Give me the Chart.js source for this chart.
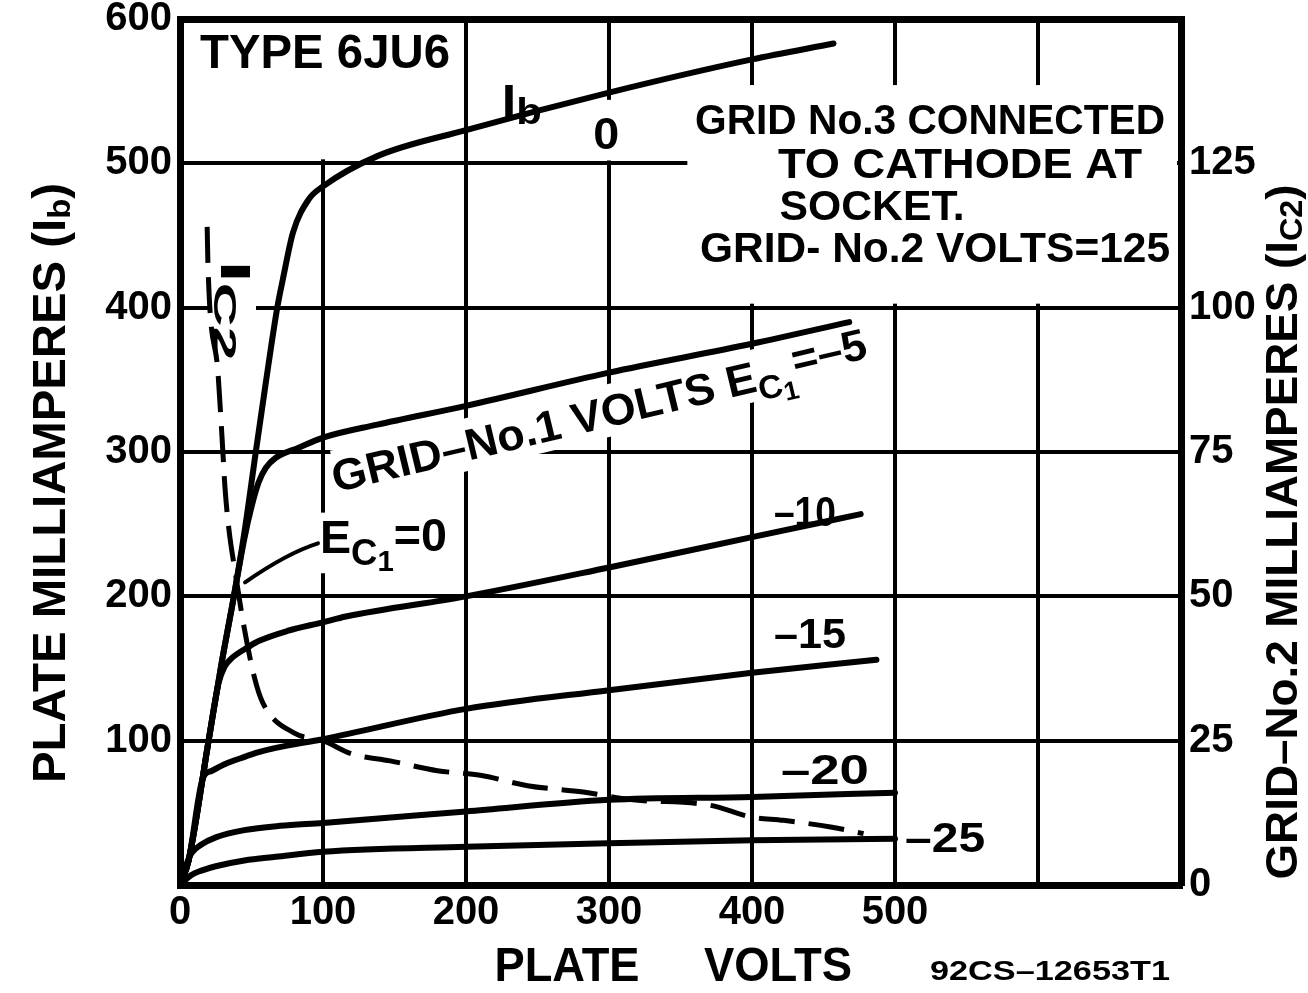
<!DOCTYPE html>
<html>
<head>
<meta charset="utf-8">
<title>Type 6JU6 plate characteristics</title>
<script src="https://cdn.jsdelivr.net/npm/chart.js@4.4.0/dist/chart.umd.min.js"></script>
<style>
  html, body { margin: 0; padding: 0; background: #fff; }
  #wrap { width: 1308px; height: 993px; position: relative; }
</style>
</head>
<body>
<div id="wrap"><canvas id="chart"></canvas></div>
<script>
// plate volts / plate mA, one pair of arrays per grid-No.1 bias
const volts0 = [0, 6, 20, 29.5, 37.5, 45, 53, 60, 68, 72, 79, 90, 100, 138, 200, 300, 400, 457];
const ib0    = [0, 17, 100, 156, 199, 244, 300, 348, 400, 420, 452, 475, 484, 505, 523, 549, 572, 583];

const volts5 = [0, 6, 20, 29.5, 37.5, 45, 50, 55, 60, 67, 83, 100, 138, 200, 300, 400, 468];
const ib5    = [0, 17, 100, 156, 199, 240, 262, 279, 289, 296, 303, 310, 319, 332, 355, 375, 390];

const volts10 = [0, 6, 20, 27, 31, 36, 48, 55, 75, 100, 116, 200, 300, 400, 476];
const ib10    = [0, 17, 100, 140, 151, 157, 165, 169, 176, 182, 186, 200, 220, 241, 257];

const volts15 = [0, 6, 16, 22, 32, 43, 55, 67, 100, 200, 300, 400, 487];
const ib15    = [0, 17, 74, 79, 84, 88, 92, 95, 101, 122, 135, 147, 156];

const volts20 = [0, 4, 8, 15, 25, 45, 70, 100, 200, 300, 400, 500];
const ib20    = [0, 13, 22, 28, 33, 38, 41, 43, 51, 59, 61, 64];

const volts25 = [0, 8, 15, 25, 45, 67, 100, 200, 300, 400, 500];
const ib25    = [0, 7, 10, 13, 17, 19.5, 23, 26.5, 29, 31, 32];

// grid-No.2 current (right axis) at Ec1 = 0
const voltsG2 = [19, 19.6, 26.6, 29.4, 31.5, 34.3, 39, 44, 52, 58, 80, 100, 120, 147, 180, 210, 243, 282, 315, 371, 399, 422, 456, 478];
const ic2     = [114, 107, 88.6, 77.5, 68.7, 61.4, 53.6, 45.8, 36, 31.5, 26.3, 25, 22.7, 21.5, 19.8, 19, 17.2, 16.1, 14.8, 13.8, 11.8, 11.2, 10, 8.9];

// tick labels that are printed
const voltTicks = [0, 100, 200, 300, 400, 500];
const plateTicks = [100, 200, 300, 400, 500, 600];
const screenTicks = [0, 25, 50, 75, 100, 125];

const FONT = '"Liberation Sans", Arial, sans-serif';

function curve(xs, ys) {
    return xs.map((x, k) => ({ x: x, y: ys[k] }));
}

function lineSet(label, xs, ys, axis, dash) {
    return {
        label: label,
        data: curve(xs, ys),
        yAxisID: axis,
        showLine: true,
        borderColor: '#000',
        borderWidth: dash ? 5 : 6,
        borderDash: dash || [],
        borderCapStyle: dash ? 'butt' : 'round',
        borderJoinStyle: 'round',
        pointRadius: 0,
        fill: false,
        cubicInterpolationMode: 'monotone'
    };
}

// white patches where the printed sheet has no grid (data units)
const masks = [
    { v0: 0, v1: 200, i0: 500, i1: 600, pad: 4 },
    { v0: 352, v1: 700, i0: 400, i1: 557, pad: 4 },
    { v0: 286, v1: 308, i0: 502, i1: 544, pad: 0 },
    { v0: 95, v1: 189, i0: 216, i1: 258, pad: 0 }
];

// lettering on the plot, anchored in data units
const notes = [
    { segs: [['TYPE 6JU6', 1, 0]], v: 101.4, i: 575, w: 250, size: 48 },
    { segs: [['I', 1, 0], ['b', 0.8, 0.2]], v: 239, i: 541, w: 40, size: 46 },
    { segs: [['0', 1, 0]], v: 298, i: 518, w: 26, size: 44 },
    { segs: [['GRID No.3 CONNECTED', 1, 0]], v: 524.5, i: 528, w: 470, size: 42 },
    { segs: [['TO CATHODE AT', 1, 0]], v: 545.5, i: 498, w: 364, size: 42 },
    { segs: [['SOCKET.', 1, 0]], v: 484, i: 469, w: 185, size: 42 },
    { segs: [['GRID- No.2 VOLTS=125', 1, 0]], v: 528, i: 439.4, w: 470, size: 42 },
    { segs: [['GRID\u2013No.1 VOLTS E', 1, 0], ['C', 0.75, 0.3], ['1', 0.6, 0.48], ['=\u20135', 1, -0.15]],
      v: 294, i: 324.6, w: 550, size: 44, rot: -13.5, bg: [0.68, 0.5], bgPad: -4 },
    { segs: [['E', 1, 0], ['C', 0.78, 0.32], ['1', 0.62, 0.5], ['=0', 1, -0.05]], v: 142.3, i: 238.8, w: 127, size: 46 },
    { segs: [['I', 1, 0], ['C2', 0.75, 0.25]], v: 37, i: 398, w: 100, size: 42, rot: 90, bg: [0.55, 0.55], bgPad: 6 },
    { segs: [['\u201310', 1, 0]], v: 437, i: 256.7, w: 62, size: 42 },
    { segs: [['\u201315', 1, 0]], v: 440.6, i: 172, w: 72, size: 42 },
    { segs: [['\u201320', 1, 0]], v: 451, i: 78.2, w: 88, size: 42 },
    { segs: [['\u201325', 1, 0]], v: 535, i: 31.1, w: 80, size: 42 }
];

// leader from the Ec1=0 label to the dashed curve: start, bend, end
const leaderV = [96.5, 75, 45.5];
const leaderI = [236.7, 230, 209.7];

function drawNote(ctx, n, cx, cy, bgOnly) {
    ctx.save();
    ctx.translate(cx, cy);
    ctx.rotate((n.rot || 0) * Math.PI / 180);
    if (bgOnly) {
        const p = n.bgPad || 0;
        ctx.fillStyle = '#fff';
        ctx.fillRect(-n.w / 2 - p, -n.size * n.bg[0], n.w + 2 * p, n.size * (n.bg[0] + n.bg[1]));
        ctx.restore();
        return;
    }
    let total = 0;
    n.segs.forEach(s => {
        ctx.font = 'bold ' + Math.round(n.size * s[1]) + 'px ' + FONT;
        total += ctx.measureText(s[0]).width;
    });
    ctx.scale(n.w / total, 1);
    ctx.fillStyle = '#000';
    ctx.textAlign = 'left';
    ctx.textBaseline = 'middle';
    let x = -total / 2;
    n.segs.forEach(s => {
        ctx.font = 'bold ' + Math.round(n.size * s[1]) + 'px ' + FONT;
        ctx.fillText(s[0], x, s[2] * n.size);
        x += ctx.measureText(s[0]).width;
    });
    ctx.restore();
}

const inkPlugin = {
    id: 'ink',
    beforeDatasetsDraw(chart) {
        const ctx = chart.ctx, sx = chart.scales.x, sy = chart.scales.y;
        ctx.save();
        ctx.fillStyle = '#fff';
        masks.forEach(m => {
            const x0 = sx.getPixelForValue(m.v0) + m.pad, x1 = sx.getPixelForValue(m.v1) - m.pad;
            const y0 = sy.getPixelForValue(m.i1) + m.pad, y1 = sy.getPixelForValue(m.i0) - m.pad;
            ctx.fillRect(x0, y0, x1 - x0, y1 - y0);
        });
        ctx.restore();
        notes.forEach(n => {
            if (n.bg) drawNote(ctx, n, sx.getPixelForValue(n.v), sy.getPixelForValue(n.i), true);
        });
    },
    afterDatasetsDraw(chart) {
        const ctx = chart.ctx, sx = chart.scales.x, sy = chart.scales.y;
        ctx.save();
        ctx.strokeStyle = '#000';
        ctx.lineWidth = 4;
        ctx.lineCap = 'round';
        ctx.beginPath();
        ctx.moveTo(sx.getPixelForValue(leaderV[0]), sy.getPixelForValue(leaderI[0]));
        ctx.quadraticCurveTo(sx.getPixelForValue(leaderV[1]), sy.getPixelForValue(leaderI[1]),
            sx.getPixelForValue(leaderV[2]), sy.getPixelForValue(leaderI[2]));
        ctx.stroke();
        ctx.restore();
        notes.forEach(n => drawNote(ctx, n, sx.getPixelForValue(n.v), sy.getPixelForValue(n.i), false));
    },
    afterDraw(chart) {
        const ctx = chart.ctx;
        drawNote(ctx, { segs: [['PLATE MILLIAMPERES (I', 1, 0], ['b', 0.7, 0.2], [')', 1, 0]], w: 600, size: 46, rot: -90 }, 52, 483);
        drawNote(ctx, { segs: [['GRID\u2013No.2 MILLIAMPERES (I', 1, 0], ['C2', 0.7, 0.2], [')', 1, 0]], w: 695, size: 44, rot: -90 }, 1285, 532);
        drawNote(ctx, { segs: [['PLATE', 1, 0]], w: 145, size: 48 }, 567, 968);
        drawNote(ctx, { segs: [['VOLTS', 1, 0]], w: 148, size: 48 }, 778, 968);
        drawNote(ctx, { segs: [['92CS\u201312653T1', 1, 0]], w: 240, size: 28 }, 1050, 972);
    }
};

const tickFont = { family: FONT, size: 40, weight: 'bold' };

new Chart(document.getElementById('chart'), {
    type: 'scatter',
    data: {
        datasets: [
            lineSet('Ec1 = 0', volts0, ib0, 'y'),
            lineSet('Ec1 = -5', volts5, ib5, 'y'),
            lineSet('Ec1 = -10', volts10, ib10, 'y'),
            lineSet('Ec1 = -15', volts15, ib15, 'y'),
            lineSet('Ec1 = -20', volts20, ib20, 'y'),
            lineSet('Ec1 = -25', volts25, ib25, 'y'),
            lineSet('Ic2 at Ec1 = 0', voltsG2, ic2, 'y2', [36, 14])
        ]
    },
    options: {
        responsive: true,
        maintainAspectRatio: false,
        animation: false,
        devicePixelRatio: 1,
        layout: { padding: { top: 19, left: 0, right: 0, bottom: 0 } },
        plugins: {
            legend: { display: false },
            tooltip: { enabled: false }
        },
        scales: {
            x: {
                type: 'linear',
                min: 0,
                max: 700,
                ticks: {
                    stepSize: 100,
                    autoSkip: false,
                    maxRotation: 0,
                    color: '#000',
                    font: tickFont,
                    padding: 4,
                    callback: v => voltTicks.includes(v) ? v : ''
                },
                grid: { color: '#000', lineWidth: 4, drawTicks: false },
                border: { color: '#000', width: 7 },
                afterFit: s => { s.height = 108; s.paddingLeft = 0; s.paddingRight = 0; }
            },
            y: {
                type: 'linear',
                position: 'left',
                min: 0,
                max: 600,
                ticks: {
                    stepSize: 100,
                    color: '#000',
                    font: tickFont,
                    padding: 8,
                    callback: v => plateTicks.includes(v) ? v : ''
                },
                grid: {
                    color: '#000',
                    lineWidth: c => (c.tick && c.tick.value === 600) ? 7 : 4,
                    drawTicks: false
                },
                border: { color: '#000', width: 7 },
                afterFit: s => { s.width = 180; s.paddingTop = 0; s.paddingBottom = 0; }
            },
            y2: {
                type: 'linear',
                position: 'right',
                min: 0,
                max: 150,
                ticks: {
                    stepSize: 25,
                    color: '#000',
                    font: tickFont,
                    padding: 8,
                    callback: v => screenTicks.includes(v) ? v : ''
                },
                grid: { drawOnChartArea: false, drawTicks: false },
                border: { color: '#000', width: 7 },
                afterFit: s => { s.width = 127; s.paddingTop = 0; s.paddingBottom = 0; }
            }
        }
    },
    plugins: [inkPlugin]
});
</script>
</body>
</html>
